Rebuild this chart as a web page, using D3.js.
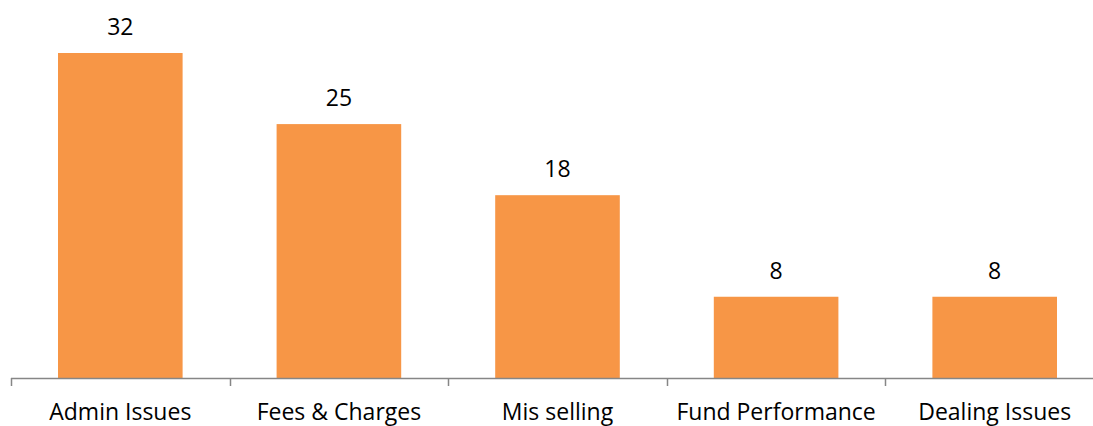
<!DOCTYPE html>
<head>
	<script src="https://d3js.org/d3.v7.min.js"></script>
	<style>
		body { margin: 0; background: #fff; }
		text { font-family: "Open Sans", sans-serif; fill: #000; }
	</style>
</head>
<body>
	<script type="text/javascript">
		var categories = ["Admin Issues", "Fees & Charges", "Mis selling", "Fund Performance", "Dealing Issues"];
		var values = [32, 25, 18, 8, 8];

		var w = 1093;
		var h = 426;
		var svg = d3.select("body").append("svg").attr("width", w).attr("height", h);

		var baseY = 378;
		var xScale = d3.scaleBand().domain(categories).range([11, 1104]).padding(0);
		var yScale = d3.scaleLinear().domain([0, 32]).range([baseY, 53]);
		var barW = xScale.bandwidth() * 0.57;

		svg.selectAll("rect")
			.data(categories)
			.enter()
			.append("rect")
			.attr("x", function(d){ return xScale(d) + (xScale.bandwidth() - barW) / 2; })
			.attr("y", function(d,i){ return yScale(values[i]); })
			.attr("width", barW)
			.attr("height", function(d,i){ return baseY - yScale(values[i]); })
			.attr("fill", "#F79646");

		// value labels
		svg.selectAll(".val")
			.data(categories)
			.enter()
			.append("text")
			.attr("class", "val")
			.attr("x", function(d){ return xScale(d) + xScale.bandwidth() / 2; })
			.attr("y", function(d,i){ return yScale(values[i]) - 18; })
			.attr("text-anchor", "middle")
			.style("font-size", "23px")
			.text(function(d,i){ return values[i]; });

		// axis line + ticks
		var axis = svg.append("g");
		axis.append("line")
			.attr("x1", 11).attr("x2", 1104)
			.attr("y1", baseY + 0.5).attr("y2", baseY + 0.5)
			.attr("stroke", "#868686").attr("stroke-width", 1.5);
		var tickPos = categories.map(function(d){ return xScale(d); }).concat([xScale.range()[1]]);
		axis.selectAll(".tick")
			.data(tickPos)
			.enter()
			.append("line")
			.attr("x1", function(d){ return Math.round(d) + 0.5; })
			.attr("x2", function(d){ return Math.round(d) + 0.5; })
			.attr("y1", baseY).attr("y2", baseY + 8)
			.attr("stroke", "#868686").attr("stroke-width", 1.5);

		svg.selectAll(".cat")
			.data(categories)
			.enter()
			.append("text")
			.attr("class", "cat")
			.attr("x", function(d){ return xScale(d) + xScale.bandwidth() / 2; })
			.attr("y", 420)
			.attr("text-anchor", "middle")
			.style("font-size", "23px")
			.text(function(d){ return d; });
	</script>
</body>
